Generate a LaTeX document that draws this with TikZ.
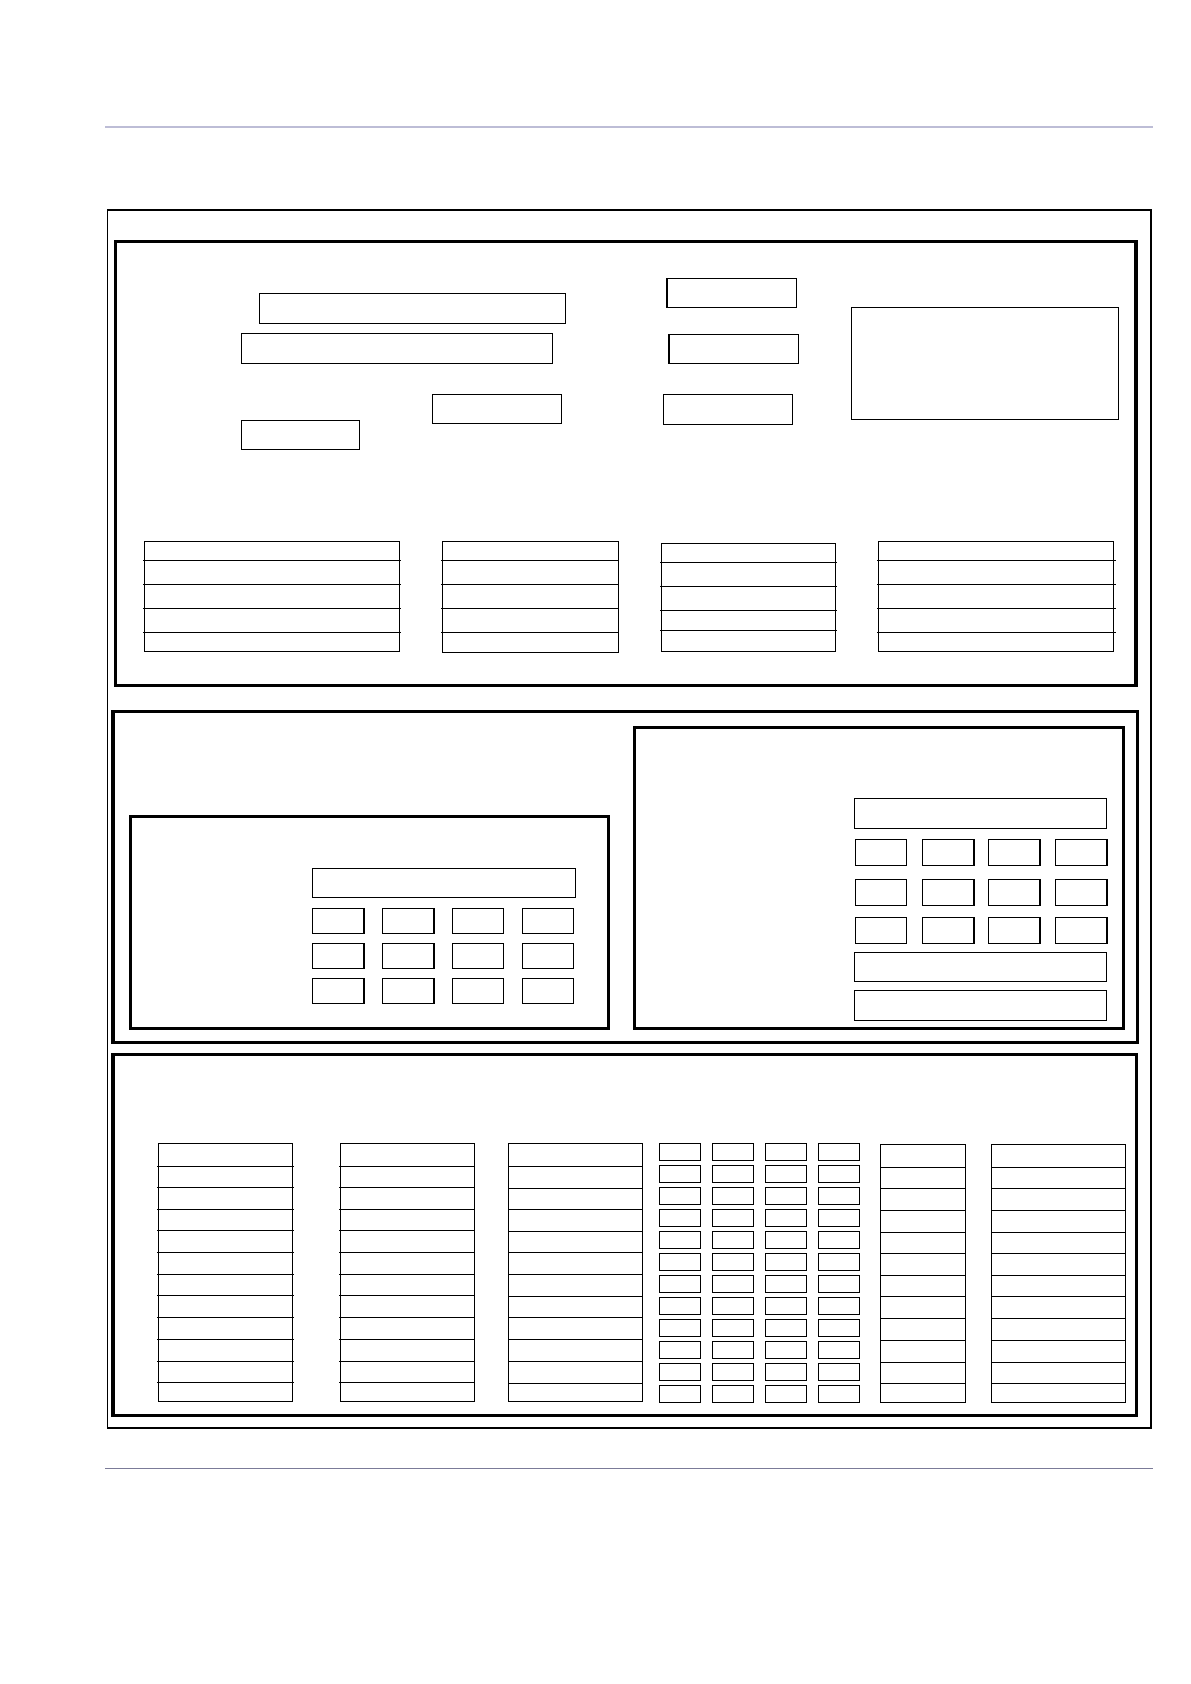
\documentclass[tikz,border=0pt]{standalone}
\usepackage{tikz}

\definecolor{ruletop}{HTML}{BDBDD6}
\definecolor{rulebot}{HTML}{7B7B98}

\tikzset{
  panel/.style={draw=black, line width=1.65pt},
  frame/.style={draw=black, line width=0.55pt},
  box/.style={draw=black, line width=0.65pt},
  row/.style={draw=black, line width=0.65pt}
}

\begin{document}
\begin{tikzpicture}[x=0.5pt,y=-0.5pt]
\useasboundingbox (0,0) rectangle (1190,1684);
\draw [ruletop, line width=0.85pt] (105,126.7) -- (1153,126.7);
\draw [rulebot, line width=0.8pt] (105,1468.3) -- (1153,1468.3);
\draw [frame] (107.5,210) rectangle (1151,1428);
% top panel
\draw [panel] (115.3,241.7) rectangle (1135.9,685.7);
\draw [box] (259.6,293.3) rectangle (565.7,323.3);
\draw [box] (241.2,333.3) rectangle (552.7,363.3);
\draw [box] (432.6,394.3) rectangle (561.5,423.3);
\draw [box] (241.2,420.3) rectangle (359.5,449.3);
\draw [box] (667.1,278.3) rectangle (796.4,307.3);
\draw [box] (668.9,334.3) rectangle (798.2,363.3);
\draw [box] (663.2,394.3) rectangle (792.5,424.3);
\draw [box] (851.4,307.3) rectangle (1118.2,419.3);
\draw [box] (144.4,541.3) rectangle (399.2,651.3);
\draw [box] (442.3,541.3) rectangle (618.2,652.3);
\draw [box] (661.3,543.3) rectangle (835.2,651.3);
\draw [box] (878.3,541.3) rectangle (1113.5,651.3);
\foreach \y in {560.3,584.3,608.3,632.3} {
  \draw [row] (143.4,\y) -- (401.2,\y);
  \draw [row] (441.3,\y) -- (619.2,\y);
  \draw [row] (877.3,\y) -- (1115.5,\y);
}
\foreach \y in {562.3,586.3,610.3,630.3}
  \draw [row] (660.3,\y) -- (837.2,\y);
% middle panel
\draw [panel] (113.1,711.7) rectangle (1137.6,1042.3);
\draw [panel] (130.3,816.7) rectangle (608.6,1028.3);
\draw [panel] (634.5,727.3) rectangle (1123.8,1028.3);
\draw [box] (312.5,868.3) rectangle (575.6,897.3);
\foreach \x in {312.5,382.4,452.3,522.2}
  \foreach \y in {908.3,943.3,978.3}
    \draw [box] (\x,\y) rectangle ++(51.5,25);
\draw [box] (854.2,798.3) rectangle (1106.6,828.3);
\foreach \x in {855.2,922.3,988.5,1055.3}
  \foreach \y in {839.3,879.3,917.3}
    \draw [box] (\x,\y) rectangle ++(51.6,26.4);
\draw [box] (854.2,952.3) rectangle (1106.6,981.7);
\draw [box] (854.2,990.3) rectangle (1106.6,1020.3);
% bottom panel
\draw [panel] (113.1,1054.3) rectangle (1136.5,1415.7);
\draw [box] (158.2,1143.3) rectangle (292.5,1401.3);
\draw [box] (340.4,1143.3) rectangle (474.3,1401.3);
\draw [box] (508.4,1143.3) rectangle (642.4,1401.3);
\draw [box] (880.3,1144.3) rectangle (965.4,1402.3);
\draw [box] (991.2,1144.3) rectangle (1125.2,1402.3);
\foreach \y in {1166.3,1187.3,1209.3,1230.3,1252.3,1274.3,1295.3,1317.3,1339.3,1361.3,1382.3} {
  \draw [row] (157.2,\y) -- (293.5,\y);
  \draw [row] (339.4,\y) -- (475.3,\y);
}
\foreach \y in {1166.3,1188.3,1209.3,1231.3,1252.3,1274.3,1296.3,1317.3,1339.3,1361.3,1383.3}
  \draw [row] (508.4,\y) -- (643.4,\y);
\foreach \y in {1167.3,1188.3,1210.3,1232.3,1253.3,1275.3,1296.3,1318.3,1340.3,1362.3,1383.3} {
  \draw [row] (880.3,\y) -- (966.4,\y);
  \draw [row] (991.2,\y) -- (1126.2,\y);
}
\foreach \x in {659.3,712.3,765.3,818.3}
  \foreach \k in {0,...,11}
    \draw [box] (\x,1143.3+22*\k) rectangle ++(41,17);
\end{tikzpicture}
\end{document}
